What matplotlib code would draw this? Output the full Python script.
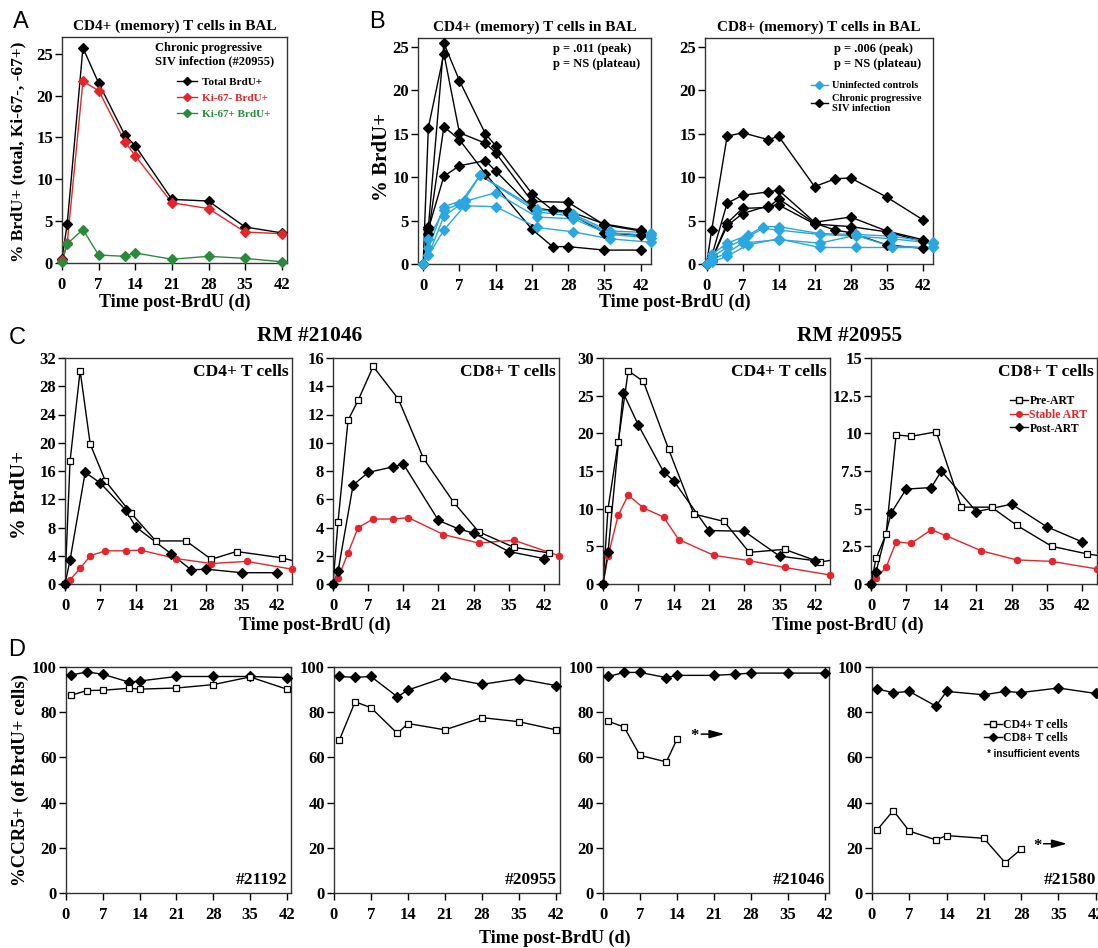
import numpy as np
import matplotlib
matplotlib.use('Agg')
import matplotlib.pyplot as plt
from matplotlib.lines import Line2D

plt.rcParams['font.family'] = ['Liberation Serif', 'DejaVu Serif']
plt.rcParams['font.weight'] = 'bold'
plt.rcParams['axes.labelweight'] = 'bold'
plt.rcParams['axes.linewidth'] = 1.0
plt.rcParams['axes.edgecolor'] = '#333333'

RED = '#e3262b'
GREEN = '#2a8a3c'
CYAN = '#2aa7df'

# ---- panel A: CD4+ memory T cells in BAL, animal #20955
a_days = [0, 1, 4, 7, 12, 14, 21, 28, 35, 42]
a_total = [0.5, 4.7, 25.7, 21.5, 15.3, 14.0, 7.6, 7.4, 4.3, 3.6]
a_ki67neg = [0.3, 2.4, 21.7, 20.6, 14.5, 12.8, 7.2, 6.5, 3.7, 3.5]
a_ki67pos = [0.1, 2.3, 4.0, 0.95, 0.8, 1.2, 0.45, 0.8, 0.55, 0.15]

# ---- panel B: CD4 / CD8, SIV vs controls (days, values)
b4_siv = [
    ([0, 1, 4, 7, 12, 14, 21, 25, 28, 35, 42], [0, 4.2, 25.4, 21.1, 15.0, 13.6, 8.1, 6.2, 6.1, 4.6, 3.9]),
    ([0, 1, 4, 7, 12, 14, 21, 28, 35, 42], [0, 15.7, 24.2, 15.1, 13.9, 12.8, 7.2, 7.1, 4.5, 3.8]),
    ([0, 1, 4, 7, 12, 21, 25, 28, 35, 42], [0, 3.5, 15.8, 14.3, 10.4, 4.0, 2.0, 2.0, 1.6, 1.6]),
    ([0, 1, 4, 7, 12, 14, 21, 28, 35, 42], [0, 4.0, 10.1, 11.3, 11.9, 10.7, 6.5, 5.9, 3.6, 3.3]),
]
b4_ctrl = [
    ([0, 1, 4, 8, 11, 22, 29, 36, 44], [0, 1.8, 6.6, 7.4, 10.2, 6.3, 5.7, 3.8, 3.6]),
    ([0, 1, 4, 7, 11, 22, 29, 36, 44], [0, 2.9, 6.2, 6.9, 10.2, 6.0, 5.5, 3.6, 3.3]),
    ([0, 1, 4, 8, 14, 22, 29, 36, 44], [0, 1.0, 5.5, 7.2, 8.2, 5.4, 5.2, 3.4, 3.0]),
    ([0, 1, 4, 8, 14, 22, 29, 36, 44], [0, 1.0, 3.9, 6.7, 6.6, 4.2, 3.7, 2.9, 2.5]),
]
b8_siv = [
    ([0, 1, 4, 7, 12, 14, 21, 25, 28, 35, 42], [0, 3.9, 14.7, 15.1, 14.3, 14.7, 8.9, 9.8, 9.9, 7.7, 5.1]),
    ([0, 1, 4, 7, 12, 14, 21, 28, 35, 42], [0, 0.9, 7.0, 7.9, 8.3, 8.5, 4.8, 5.4, 3.8, 2.8]),
    ([0, 1, 4, 7, 12, 14, 21, 25, 28, 35, 42], [0, 0.5, 4.7, 6.4, 6.5, 7.5, 4.7, 3.9, 3.6, 2.2, 1.8]),
    ([0, 1, 4, 7, 12, 14, 21, 28, 35, 42], [0, 0.5, 4.4, 5.8, 6.7, 6.8, 4.6, 4.3, 3.7, 2.6]),
]
b8_ctrl = [
    ([0, 1, 4, 8, 11, 14, 22, 29, 36, 44], [0, 1.1, 2.4, 3.3, 4.3, 4.3, 3.5, 3.4, 3.2, 2.5]),
    ([0, 1, 4, 7, 11, 14, 22, 29, 36, 44], [0, 0.8, 1.9, 2.8, 4.1, 3.9, 3.4, 3.2, 2.9, 2.4]),
    ([0, 1, 4, 7, 14, 22, 29, 36, 44], [0, 0.5, 1.3, 2.4, 2.8, 2.4, 3.3, 2.0, 1.9]),
    ([0, 1, 4, 8, 14, 22, 29, 36, 44], [0, 0.2, 0.9, 2.2, 2.9, 1.9, 1.9, 1.9, 1.9]),
]

# ---- panel C: pre-ART / stable ART / post-ART
stable_days = [0, 1, 3, 5, 8, 12, 15, 22, 29, 36, 45]
c_panels = [
    dict(pre_d=[0, 1, 3, 5, 8, 13, 18, 24, 29, 34, 43, 49],
         pre=[0, 17.4, 30.2, 19.8, 14.6, 10.1, 6.1, 6.1, 3.5, 4.6, 3.7, 2.6],
         stable=[0, 0.6, 2.2, 4.0, 4.7, 4.7, 4.8, 3.6, 2.9, 3.2, 2.1],
         post_d=[0, 1, 4, 7, 12, 14, 21, 25, 28, 35, 42],
         post=[0, 3.4, 15.8, 14.3, 10.5, 8.1, 4.3, 2.0, 2.1, 1.6, 1.6]),
    dict(pre_d=[0, 1, 3, 5, 8, 13, 18, 24, 29, 36, 43],
         pre=[0, 4.4, 11.6, 13.0, 15.4, 13.1, 8.9, 5.8, 3.7, 2.6, 2.2],
         stable=[0, 0.4, 2.2, 4.0, 4.6, 4.6, 4.7, 3.5, 2.9, 3.1, 2.0],
         post_d=[0, 1, 4, 7, 12, 14, 21, 25, 28, 35, 42],
         post=[0, 0.9, 7.0, 7.9, 8.3, 8.5, 4.5, 3.9, 3.6, 2.3, 1.8]),
    dict(pre_d=[0, 1, 3, 5, 8, 13, 18, 24, 29, 36, 43, 49],
         pre=[0, 10.0, 18.8, 28.3, 26.9, 17.9, 9.3, 8.3, 4.2, 4.6, 2.9, 3.6],
         stable=[0, 3.7, 9.1, 11.8, 10.1, 8.9, 5.9, 3.8, 3.1, 2.2, 1.2],
         post_d=[0, 1, 4, 7, 12, 14, 21, 28, 35, 42],
         post=[0, 4.2, 25.4, 21.1, 14.9, 13.7, 7.1, 7.0, 3.7, 3.1]),
    dict(pre_d=[0, 1, 3, 5, 8, 13, 18, 24, 29, 36, 43, 49],
         pre=[0, 1.7, 3.3, 9.9, 9.8, 10.1, 5.1, 5.1, 3.9, 2.5, 2.0, 1.7],
         stable=[0, 0.4, 1.1, 2.8, 2.7, 3.6, 3.2, 2.2, 1.6, 1.5, 1.0],
         post_d=[0, 1, 4, 7, 12, 14, 21, 28, 35, 42],
         post=[0, 0.8, 4.7, 6.3, 6.4, 7.5, 4.8, 5.3, 3.8, 2.8]),
]
c_titles = ['CD4+ T cells', 'CD8+ T cells', 'CD4+ T cells', 'CD8+ T cells']
c_ymax = [32, 16, 30, 15]
c_ystep = [4, 2, 5, 2.5]

# ---- panel D: %CCR5+ of BrdU+ cells
d_panels = [
    dict(name='#21192',
         cd8_d=[1, 4, 7, 12, 14, 21, 28, 35, 42], cd8=[96.5, 97.8, 96.8, 93.3, 93.8, 95.8, 95.8, 95.8, 95.3],
         cd4_d=[1, 4, 7, 12, 14, 21, 28, 35, 42], cd4=[87.5, 89.6, 89.7, 90.6, 90.2, 90.7, 92.2, 95.6, 90.2]),
    dict(name='#20955',
         cd8_d=[1, 4, 7, 12, 14, 21, 28, 35, 42], cd8=[95.8, 95.4, 95.8, 86.8, 89.8, 95.4, 92.3, 94.8, 91.8],
         cd4_d=[1, 4, 7, 12, 14, 21, 28, 35, 42], cd4=[67.6, 84.6, 82.0, 70.6, 75.0, 72.2, 77.6, 75.8, 72.2]),
    dict(name='#21046',
         cd8_d=[1, 4, 7, 12, 14, 21, 25, 28, 35, 42], cd8=[95.8, 97.6, 97.6, 95.3, 96.3, 96.3, 96.8, 97.3, 97.3, 97.3],
         cd4_d=[1, 4, 7, 12, 14], cd4=[76.0, 73.4, 60.9, 58.0, 68.0]),
    dict(name='#21580',
         cd8_d=[1, 4, 7, 12, 14, 21, 25, 28, 35, 42], cd8=[90.3, 88.6, 89.2, 82.7, 89.2, 87.7, 89.2, 88.7, 90.7, 88.3],
         cd4_d=[1, 4, 7, 12, 14, 21, 25, 28], cd4=[28.0, 36.5, 27.4, 23.5, 25.4, 24.2, 13.4, 19.4]),
]

W, H = 1098, 948
fig = plt.figure(figsize=(W / 100, H / 100), dpi=100)


def add_ax(l, r, t, b):
    ax = fig.add_axes([l / W, 1 - b / H, (r - l) / W, (b - t) / H])
    ax.tick_params(direction='out', length=5, width=1, labelsize=12)
    ax.tick_params(axis='x', pad=5)
    ax.tick_params(axis='y', pad=1.5)
    return ax


def ftext(x, y, s, **kw):
    return fig.text(x / W, 1 - y / H, s, **kw)


def draw(ax, x, y, marker, color, mfc=None, ms=5.5, xmax=99):
    x = np.asarray(x, float)
    y = np.asarray(y, float)
    ax.plot(x, y, '-', color=color, lw=1.0, zorder=2)
    m = x <= xmax
    ax.plot(x[m], y[m], ls='none', marker=marker, color=color,
            mfc=mfc if mfc else color, mec=color if mfc != 'white' else 'black',
            mew=0.9, ms=ms, clip_on=False, zorder=3)


def xlab(x, y, s='Time post-BrdU (d)'):
    ftext(x, y, s, fontsize=13, ha='center', va='center')


def ylab(x, y, s, size):
    ftext(x, y, s, fontsize=size, ha='center', va='center', rotation=90)


days_ticks = [0, 7, 14, 21, 28, 35, 42]

# ---------------- A
axA = add_ax(62, 287, 37, 263)
draw(axA, a_days, a_total, 'D', 'black', ms=5.5)
draw(axA, a_days, a_ki67neg, 'D', RED, ms=5.5)
draw(axA, a_days, a_ki67pos, 'D', GREEN, ms=5.5)
axA.set_xlim(0, 43)
axA.set_ylim(0, 27)
axA.set_xticks(days_ticks)
axA.set_yticks([0, 5, 10, 15, 20, 25])
axA.set_title('CD4+ (memory) T cells in BAL', fontsize=11, fontweight='bold', pad=5)
xlab(175, 302)
ylab(18, 152, '% BrdU+ (total, Ki-67-, -67+)', 12.5)
ftext(155, 42, 'Chronic progressive\nSIV infection (#20955)', fontsize=9, va='top', linespacing=1.15)
hA = [Line2D([], [], color=c, marker='D', ms=4.5, lw=1) for c in ['black', RED, GREEN]]
axA.legend(hA, ['Total BrdU+', 'Ki-67- BrdU+', 'Ki-67+ BrdU+'], loc='upper left',
           bbox_to_anchor=(177 / W, 1 - 77 / H), bbox_transform=fig.transFigure,
           frameon=False, fontsize=8, handlelength=1.8, handletextpad=0.45,
           labelspacing=0.55, borderpad=0, borderaxespad=0,
           labelcolor=['black', RED, GREEN])

# ---------------- B
axB1 = add_ax(418, 651, 38, 264)
axB2 = add_ax(705, 933, 38, 264)
for ax, siv, ctrl, title, ptxt, px in [
        (axB1, b4_siv, b4_ctrl, 'CD4+ (memory) T cells in BAL', 'p = .011 (peak)\np = NS (plateau)', 553),
        (axB2, b8_siv, b8_ctrl, 'CD8+ (memory) T cells in BAL', 'p = .006 (peak)\np = NS (plateau)', 834)]:
    for d, v in siv:
        draw(ax, d, v, 'D', 'black', ms=5.5)
    for d, v in ctrl:
        draw(ax, d, v, 'D', CYAN, ms=5.5)
    ax.set_xlim(-1 if ax is axB1 else -0.3, 44)
    ax.set_ylim(0, 26)
    ax.set_xticks(days_ticks)
    ax.set_yticks([0, 5, 10, 15, 20, 25])
    ax.set_title(title, fontsize=11, fontweight='bold', pad=5)
    ftext(px, 43, ptxt, fontsize=9, va='top', linespacing=1.3)
ylab(382, 157, '% BrdU+', 15)
xlab(675, 302)
hB = [Line2D([], [], color=CYAN, marker='D', ms=4, lw=1),
      Line2D([], [], color='black', marker='D', ms=4, lw=1)]
axB2.legend(hB, ['Uninfected controls', 'Chronic progressive\nSIV infection'], loc='upper left',
            bbox_to_anchor=(811 / W, 1 - 81 / H), bbox_transform=fig.transFigure,
            frameon=False, fontsize=7.5, handlelength=1.6, handletextpad=0.4,
            labelspacing=0.35, borderpad=0, borderaxespad=0)

# ---------------- C
c_pos = [(65, 292), (333, 559), (603, 830), (871, 1097)]
c_axes = []
for i, (l, r) in enumerate(c_pos):
    ax = add_ax(l, r, 358, 584)
    p = c_panels[i]
    draw(ax, p['pre_d'], p['pre'], 's', 'black', mfc='white', ms=5, xmax=45)
    draw(ax, stable_days, p['stable'], 'o', RED, ms=4.5, xmax=45)
    draw(ax, p['post_d'], p['post'], 'D', 'black', ms=5.5, xmax=45)
    ax.set_xlim(0, 45)
    ax.set_ylim(0, c_ymax[i])
    ax.set_xticks(days_ticks)
    yt = np.arange(0, c_ymax[i] + 0.01, c_ystep[i])
    ax.set_yticks(yt)
    ax.set_yticklabels([('%g' % v) for v in yt])
    ax.text(0.985, 0.975, c_titles[i], transform=ax.transAxes, ha='right', va='top', fontsize=12.5)
    c_axes.append(ax)
ylab(20, 495, '% BrdU+', 15)
ftext(310, 336, 'RM #21046', fontsize=15.5, ha='center', va='center')
ftext(850, 336, 'RM #20955', fontsize=15.5, ha='center', va='center')
xlab(315, 625)
xlab(848, 625)
hC = [Line2D([], [], color='black', marker='s', mfc='white', ms=4.5, lw=1),
      Line2D([], [], color=RED, marker='o', ms=4, lw=1),
      Line2D([], [], color='black', marker='D', ms=4.5, lw=1)]
c_axes[3].legend(hC, ['Pre-ART', 'Stable ART', 'Post-ART'], loc='upper left',
                 bbox_to_anchor=(1010 / W, 1 - 395 / H), bbox_transform=fig.transFigure,
                 frameon=False, fontsize=8.5, handlelength=1.5, handletextpad=0.15,
                 labelspacing=0.15, borderpad=0, borderaxespad=0,
                 labelcolor=['black', RED, 'black'])

# ---------------- D
d_pos = [(66, 291), (334, 560), (603, 829), (872, 1100)]
d_axes = []
for i, (l, r) in enumerate(d_pos):
    ax = add_ax(l, r, 667, 893)
    p = d_panels[i]
    draw(ax, p['cd8_d'], p['cd8'], 'D', 'black', ms=5.5)
    draw(ax, p['cd4_d'], p['cd4'], 's', 'black', mfc='white', ms=5)
    ax.set_xlim(0, 42.8)
    ax.set_ylim(0, 100)
    ax.set_xticks(days_ticks)
    ax.set_yticks([0, 20, 40, 60, 80, 100])
    ax.text(0.985, 0.02, p['name'], transform=ax.transAxes, ha='right', va='bottom', fontsize=12.5)
    d_axes.append(ax)
ylab(20, 780, '%CCR5+ (of BrdU+ cells)', 13.5)
xlab(555, 938)

# insufficient events markers
for ax, xs, y, x0, x1 in [(d_axes[2], 17.3, 69.5, 18.6, 23.0), (d_axes[3], 31.0, 21.0, 32.2, 36.6)]:
    ax.text(xs, y, '*', ha='center', va='center', fontsize=12)
    ax.annotate('', xy=(x1, y + 0.8), xytext=(x0, y + 0.8),
                arrowprops=dict(arrowstyle='-|>,head_length=0.9,head_width=0.25',
                                color='black', lw=1.1, shrinkA=0, shrinkB=0))

hD = [Line2D([], [], color='black', marker='s', mfc='white', ms=4.5, lw=1),
      Line2D([], [], color='black', marker='D', ms=4.5, lw=1)]
d_axes[3].legend(hD, ['CD4+ T cells', 'CD8+ T cells'], loc='upper left',
                 bbox_to_anchor=(984 / W, 1 - 719 / H), bbox_transform=fig.transFigure,
                 frameon=False, fontsize=8.5, handlelength=1.5, handletextpad=0.15,
                 labelspacing=0.12, borderpad=0, borderaxespad=0)
ftext(987, 754, '* insufficient events', fontsize=7, va='center',
      family=['Liberation Sans', 'DejaVu Sans'], fontweight='bold')

# panel letters
for lab, x, y in [('A', 21, 22), ('B', 377, 22), ('C', 17, 338), ('D', 17, 650)]:
    ftext(x, y, lab, fontsize=17, family=['Liberation Sans', 'DejaVu Sans'],
          fontweight='normal', va='center', ha='center')

fig.savefig('out.png', dpi=100)
